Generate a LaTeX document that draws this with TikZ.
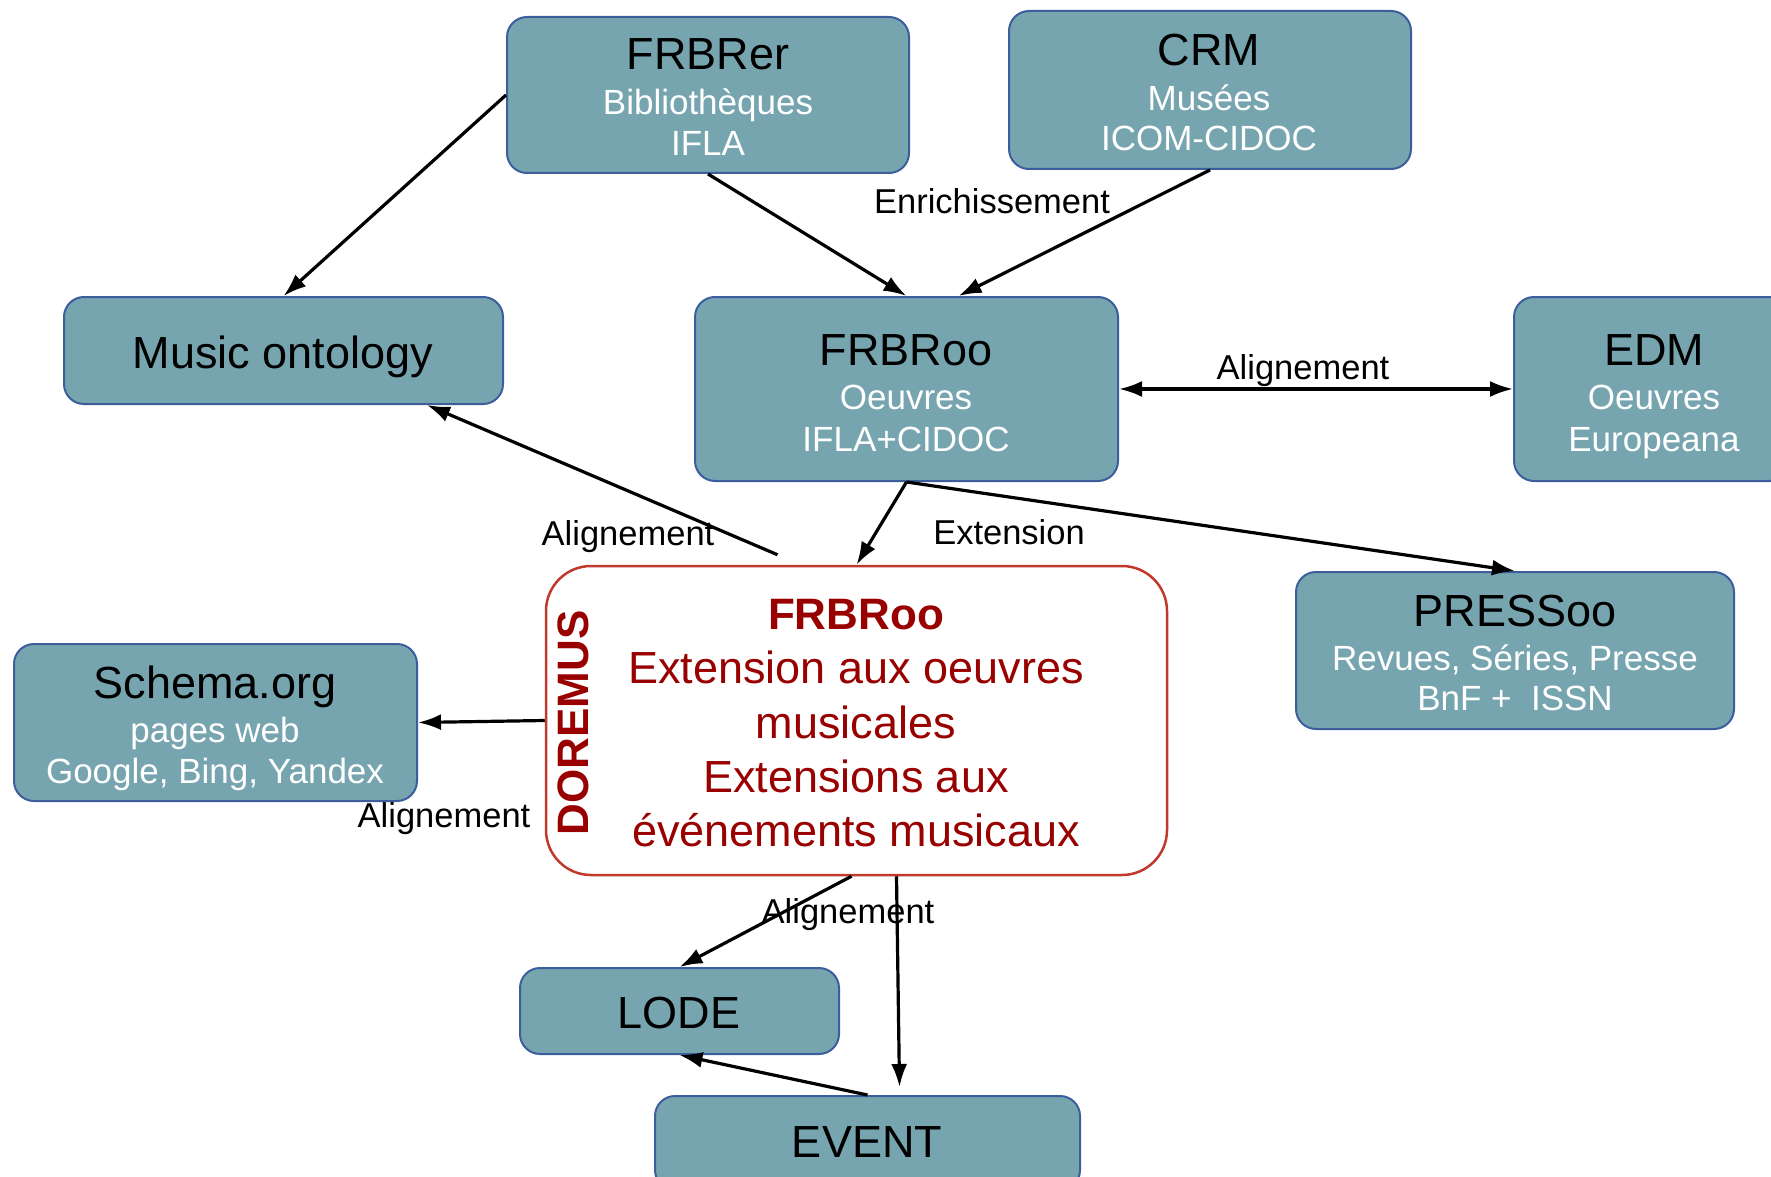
\documentclass[tikz,border=0pt]{standalone}
\usepackage{fontspec}
\setmainfont{Liberation Sans}
\usetikzlibrary{arrows.meta,calc}
\definecolor{boxfill}{HTML}{76A5AF}
\definecolor{boxline}{HTML}{3C5E9C}
\definecolor{dorline}{HTML}{C0392B}
\definecolor{dortext}{HTML}{990000}
\tikzset{
 box/.style={draw=boxline, fill=boxfill, line width=2pt, rounded corners=20pt, inner sep=0pt},
 dorbox/.style={draw=dorline, fill=white, line width=2.5pt, rounded corners=45pt, inner sep=0pt},
 ttl/.style={anchor=base, inner sep=0pt, font=\fontsize{45}{54}\selectfont},
 sub/.style={anchor=base, inner sep=0pt, text=white, font=\fontsize{35}{41}\selectfont},
 dtxt/.style={anchor=base, inner sep=0pt, text=dortext, font=\fontsize{45}{54}\selectfont},
 lbl/.style={anchor=base, inner sep=0pt, font=\fontsize{34.5}{40}\selectfont},
 conn/.style={line width=3.2pt, -{Latex[length=23pt,width=16pt]}},
 bconn/.style={line width=3.2pt, {Latex[length=23pt,width=16pt]}-{Latex[length=23pt,width=16pt]}},
}
\begin{document}
\begin{tikzpicture}[x=1pt,y=-1pt]
\useasboundingbox (0,0) rectangle (1771,1177);
\clip (0,0) rectangle (1771,1177);
\fill[white] (0,0) rectangle (1771,1177);
% boxes
\node[box, minimum width=402, minimum height=156] (frbrer) at (708,95) {};
\node[box, minimum width=402, minimum height=158] (crm) at (1210,90) {};
\node[box, minimum width=439, minimum height=107] (music) at (283.5,350.5) {};
\node[box, minimum width=423, minimum height=184] (frbroo) at (906.5,389) {};
\node[box, minimum width=276, minimum height=184] (edm) at (1652,389) {};
\node[box, minimum width=438, minimum height=157] (pressoo) at (1515,650.5) {};
\node[box, minimum width=403, minimum height=157] (schema) at (215.5,722.5) {};
\node[dorbox, minimum width=621, minimum height=309] (doremus) at (856.5,720.5) {};
\node[box, minimum width=319, minimum height=86] (lode) at (679.5,1011) {};
\node[box, minimum width=425, minimum height=94] (event) at (867.5,1143) {};
% texts
\node[ttl] (frbrer-t) at (708,70) {FRBRer};
\node[sub] (frbrer-s1) at (708,115) {Bibliothèques};
\node[sub] (frbrer-s2) at (708,156) {IFLA};
\node[ttl] (crm-t) at (1209,66) {CRM};
\node[sub] (crm-s1) at (1209,111) {Musées};
\node[sub] (crm-s2) at (1209,151) {ICOM-CIDOC};
\node[ttl] (music-t) at (283,368) {Music ontology};
\node[ttl] (frbroo-t) at (906,365) {FRBRoo};
\node[sub] (frbroo-s1) at (906,409) {Oeuvres};
\node[sub] (frbroo-s2) at (906,451) {IFLA+CIDOC};
\node[ttl] (edm-t) at (1654,365) {EDM};
\node[sub] (edm-s1) at (1654,409) {Oeuvres};
\node[sub] (edm-s2) at (1654,451) {Europeana};
\node[ttl] (pressoo-t) at (1515,626) {PRESSoo};
\node[sub] (pressoo-s1) at (1515,670) {Revues, Séries, Presse};
\node[sub] (pressoo-s2) at (1515,710) {BnF +\ \ ISSN};
\node[ttl] (schema-t) at (215,698) {Schema.org};
\node[sub] (schema-s1) at (215,742) {pages web};
\node[sub] (schema-s2) at (215,783) {Google, Bing, Yandex};
\node[dtxt, font=\fontsize{44}{54}\selectfont\bfseries] (dor-t) at (856,629) {FRBRoo};
\node[dtxt] (dor-s1) at (856,683) {Extension aux oeuvres};
\node[dtxt] (dor-s2) at (856,738) {musicales};
\node[dtxt] (dor-s3) at (856,792) {Extensions aux};
\node[dtxt] (dor-s4) at (856,846) {événements musicaux};
\node[inner sep=0pt, text=dortext, rotate=90, font=\fontsize{44}{54}\selectfont\bfseries] (dor-side) at (573,723) {DOREMUS};
\node[ttl] (lode-t) at (679,1028) {LODE};
\node[ttl] (event-t) at (867,1157) {EVENT};
% connectors
\draw[conn] (frbrer.west) -- (music.north);
\draw[conn] (frbrer.south) -- (frbroo.north);
\draw[conn] (crm.south) -- ([shift={(52,0)}]frbroo.north);
\draw[bconn] (frbroo.east) -- (edm.west);
\draw[conn] (frbroo.south) -- (doremus.north);
\draw[conn] (frbroo.south) -- (pressoo.north);
\draw[conn] ([shift={(-79,-10)}]doremus.north) -- ([shift={(143.5,0)}]music.south);
\draw[conn] (doremus.west) -- (schema.east);
\draw[conn] ([shift={(-5,0)}]doremus.south) -- (lode.north);
\draw[conn] ([shift={(40,0)}]doremus.south) -- ([shift={(32,-8)}]event.north);
\draw[conn] (event.north) -- (lode.south);
% labels
\node[lbl] (l-enrich) at (992,213) {Enrichissement};
\node[lbl] (l-edm) at (1303,379) {Alignement};
\node[lbl] (l-ext) at (1009,544) {Extension};
\node[lbl] (l-music) at (628,545) {Alignement};
\node[lbl] (l-schema) at (444,827) {Alignement};
\node[lbl] (l-lode) at (848,923) {Alignement};
\end{tikzpicture}
\end{document}
